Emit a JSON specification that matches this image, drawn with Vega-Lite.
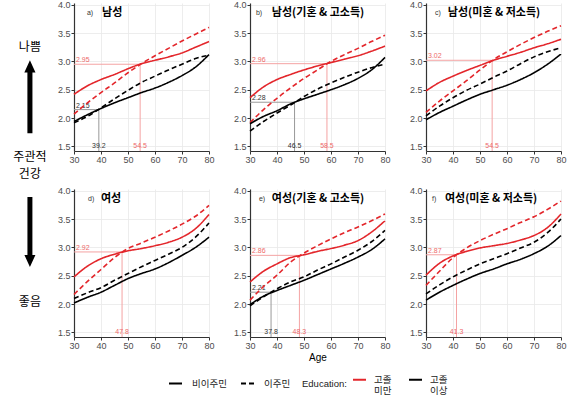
{
"$schema":"https://vega.github.io/schema/vega-lite/v6.json",
"padding":{"left":0,"top":0,"right":0,"bottom":0},
"config":{
 "view":{"stroke":null},
 "axis":{"labelFont":"Liberation Sans","labelFontSize":9,"labelColor":"#4d4d4d","labelOverlap":false,"labelFlush":false,"tickCount":12,"gridColor":"#e8e8e8","gridWidth":0.8,"domainColor":"#333333","domainWidth":1.2,"tickColor":"#333333","tickSize":3,"labelPadding":1,"titleFontSize":10,"titleFontWeight":"normal","titleColor":"#000000","titlePadding":2,"titleFont":"Liberation Sans"},
 "text":{"font":"Liberation Sans"},
 "legend":{"labelFontSize":9.5,"labelColor":"#222222","titleFontSize":9.5,"titleFontWeight":"normal","titleColor":"#222222","labelFont":"Noto Sans CJK KR","titleFont":"Liberation Sans"}
},
"datasets":{
"cross":[
{"panel":"a","type":"red","xval":54.5,"yval":2.95},
{"panel":"a","type":"gray","xval":39.2,"yval":2.15},
{"panel":"b","type":"red","xval":58.5,"yval":2.96},
{"panel":"b","type":"gray","xval":46.5,"yval":2.28},
{"panel":"c","type":"red","xval":54.5,"yval":3.02},
{"panel":"d","type":"red","xval":47.8,"yval":2.92},
{"panel":"e","type":"red","xval":48.3,"yval":2.86},
{"panel":"e","type":"gray","xval":37.8,"yval":2.21},
{"panel":"f","type":"red","xval":41.3,"yval":2.87}
],
"segs":[
{"panel":"a","type":"red","seg":"ar-h","sx":30,"sy":2.95},{"panel":"a","type":"red","seg":"ar-h","sx":54.5,"sy":2.95},
{"panel":"a","type":"red","seg":"ar-v","sx":54.5,"sy":1.42},{"panel":"a","type":"red","seg":"ar-v","sx":54.5,"sy":2.95},
{"panel":"a","type":"gray","seg":"ag-h","sx":30,"sy":2.15},{"panel":"a","type":"gray","seg":"ag-h","sx":39.2,"sy":2.15},
{"panel":"a","type":"gray","seg":"ag-v","sx":39.2,"sy":1.42},{"panel":"a","type":"gray","seg":"ag-v","sx":39.2,"sy":2.15},
{"panel":"b","type":"red","seg":"br-h","sx":30,"sy":2.96},{"panel":"b","type":"red","seg":"br-h","sx":58.5,"sy":2.96},
{"panel":"b","type":"red","seg":"br-v","sx":58.5,"sy":1.42},{"panel":"b","type":"red","seg":"br-v","sx":58.5,"sy":2.96},
{"panel":"b","type":"gray","seg":"bg-h","sx":30,"sy":2.28},{"panel":"b","type":"gray","seg":"bg-h","sx":46.5,"sy":2.28},
{"panel":"b","type":"gray","seg":"bg-v","sx":46.5,"sy":1.42},{"panel":"b","type":"gray","seg":"bg-v","sx":46.5,"sy":2.28},
{"panel":"c","type":"red","seg":"cr-h","sx":30,"sy":3.02},{"panel":"c","type":"red","seg":"cr-h","sx":54.5,"sy":3.02},
{"panel":"c","type":"red","seg":"cr-v","sx":54.5,"sy":1.42},{"panel":"c","type":"red","seg":"cr-v","sx":54.5,"sy":3.02},
{"panel":"d","type":"red","seg":"dr-h","sx":30,"sy":2.92},{"panel":"d","type":"red","seg":"dr-h","sx":47.8,"sy":2.92},
{"panel":"d","type":"red","seg":"dr-v","sx":47.8,"sy":1.42},{"panel":"d","type":"red","seg":"dr-v","sx":47.8,"sy":2.92},
{"panel":"e","type":"red","seg":"er-h","sx":30,"sy":2.86},{"panel":"e","type":"red","seg":"er-h","sx":48.3,"sy":2.86},
{"panel":"e","type":"red","seg":"er-v","sx":48.3,"sy":1.42},{"panel":"e","type":"red","seg":"er-v","sx":48.3,"sy":2.86},
{"panel":"e","type":"gray","seg":"eg-h","sx":30,"sy":2.21},{"panel":"e","type":"gray","seg":"eg-h","sx":37.8,"sy":2.21},
{"panel":"e","type":"gray","seg":"eg-v","sx":37.8,"sy":1.42},{"panel":"e","type":"gray","seg":"eg-v","sx":37.8,"sy":2.21},
{"panel":"f","type":"red","seg":"fr-h","sx":30,"sy":2.87},{"panel":"f","type":"red","seg":"fr-h","sx":41.3,"sy":2.87},
{"panel":"f","type":"red","seg":"fr-v","sx":41.3,"sy":1.42},{"panel":"f","type":"red","seg":"fr-v","sx":41.3,"sy":2.87}
],
"titles":[
{"panel":"a","t":"남성","g":"a)"},
{"panel":"b","t":"남성(기혼 & 고소득)","g":"b)"},
{"panel":"c","t":"남성(미혼 & 저소득)","g":"c)"},
{"panel":"d","t":"여성","g":"d)"},
{"panel":"e","t":"여성(기혼 & 고소득)","g":"e)"},
{"panel":"f","t":"여성(미혼 & 저소득)","g":"f)"}
],
"curves":[
{"panel":"a","edu":"고졸 미만","mig":"비이주민","age":30,"health":2.42},
{"panel":"a","edu":"고졸 미만","mig":"비이주민","age":35,"health":2.57},
{"panel":"a","edu":"고졸 미만","mig":"비이주민","age":40,"health":2.68},
{"panel":"a","edu":"고졸 미만","mig":"비이주민","age":45,"health":2.77},
{"panel":"a","edu":"고졸 미만","mig":"비이주민","age":50,"health":2.87},
{"panel":"a","edu":"고졸 미만","mig":"비이주민","age":55,"health":2.96},
{"panel":"a","edu":"고졸 미만","mig":"비이주민","age":60,"health":3.02},
{"panel":"a","edu":"고졸 미만","mig":"비이주민","age":65,"health":3.08},
{"panel":"a","edu":"고졸 미만","mig":"비이주민","age":70,"health":3.15},
{"panel":"a","edu":"고졸 미만","mig":"비이주민","age":75,"health":3.25},
{"panel":"a","edu":"고졸 미만","mig":"비이주민","age":80,"health":3.35},
{"panel":"a","edu":"고졸 미만","mig":"이주민","age":30,"health":2.07},
{"panel":"a","edu":"고졸 미만","mig":"이주민","age":35,"health":2.27},
{"panel":"a","edu":"고졸 미만","mig":"이주민","age":40,"health":2.45},
{"panel":"a","edu":"고졸 미만","mig":"이주민","age":45,"health":2.62},
{"panel":"a","edu":"고졸 미만","mig":"이주민","age":50,"health":2.80},
{"panel":"a","edu":"고졸 미만","mig":"이주민","age":55,"health":2.96},
{"panel":"a","edu":"고졸 미만","mig":"이주민","age":60,"health":3.10},
{"panel":"a","edu":"고졸 미만","mig":"이주민","age":65,"health":3.23},
{"panel":"a","edu":"고졸 미만","mig":"이주민","age":70,"health":3.36},
{"panel":"a","edu":"고졸 미만","mig":"이주민","age":75,"health":3.48},
{"panel":"a","edu":"고졸 미만","mig":"이주민","age":80,"health":3.60},
{"panel":"a","edu":"고졸 이상","mig":"비이주민","age":30,"health":1.94},
{"panel":"a","edu":"고졸 이상","mig":"비이주민","age":35,"health":2.06},
{"panel":"a","edu":"고졸 이상","mig":"비이주민","age":40,"health":2.17},
{"panel":"a","edu":"고졸 이상","mig":"비이주민","age":45,"health":2.27},
{"panel":"a","edu":"고졸 이상","mig":"비이주민","age":50,"health":2.36},
{"panel":"a","edu":"고졸 이상","mig":"비이주민","age":55,"health":2.45},
{"panel":"a","edu":"고졸 이상","mig":"비이주민","age":60,"health":2.53},
{"panel":"a","edu":"고졸 이상","mig":"비이주민","age":65,"health":2.63},
{"panel":"a","edu":"고졸 이상","mig":"비이주민","age":70,"health":2.75},
{"panel":"a","edu":"고졸 이상","mig":"비이주민","age":75,"health":2.90},
{"panel":"a","edu":"고졸 이상","mig":"비이주민","age":80,"health":3.12},
{"panel":"a","edu":"고졸 이상","mig":"이주민","age":30,"health":1.92},
{"panel":"a","edu":"고졸 이상","mig":"이주민","age":35,"health":2.03},
{"panel":"a","edu":"고졸 이상","mig":"이주민","age":40,"health":2.18},
{"panel":"a","edu":"고졸 이상","mig":"이주민","age":45,"health":2.34},
{"panel":"a","edu":"고졸 이상","mig":"이주민","age":50,"health":2.49},
{"panel":"a","edu":"고졸 이상","mig":"이주민","age":55,"health":2.63},
{"panel":"a","edu":"고졸 이상","mig":"이주민","age":60,"health":2.74},
{"panel":"a","edu":"고졸 이상","mig":"이주민","age":65,"health":2.85},
{"panel":"a","edu":"고졸 이상","mig":"이주민","age":70,"health":2.95},
{"panel":"a","edu":"고졸 이상","mig":"이주민","age":75,"health":3.05},
{"panel":"a","edu":"고졸 이상","mig":"이주민","age":80,"health":3.11},
{"panel":"b","edu":"고졸 미만","mig":"비이주민","age":30,"health":2.36},
{"panel":"b","edu":"고졸 미만","mig":"비이주민","age":35,"health":2.55},
{"panel":"b","edu":"고졸 미만","mig":"비이주민","age":40,"health":2.68},
{"panel":"b","edu":"고졸 미만","mig":"비이주민","age":45,"health":2.77},
{"panel":"b","edu":"고졸 미만","mig":"비이주민","age":50,"health":2.85},
{"panel":"b","edu":"고졸 미만","mig":"비이주민","age":55,"health":2.92},
{"panel":"b","edu":"고졸 미만","mig":"비이주민","age":60,"health":2.98},
{"panel":"b","edu":"고졸 미만","mig":"비이주민","age":65,"health":3.04},
{"panel":"b","edu":"고졸 미만","mig":"비이주민","age":70,"health":3.10},
{"panel":"b","edu":"고졸 미만","mig":"비이주민","age":75,"health":3.18},
{"panel":"b","edu":"고졸 미만","mig":"비이주민","age":80,"health":3.27},
{"panel":"b","edu":"고졸 미만","mig":"이주민","age":30,"health":1.92},
{"panel":"b","edu":"고졸 미만","mig":"이주민","age":35,"health":2.15},
{"panel":"b","edu":"고졸 미만","mig":"이주민","age":40,"health":2.35},
{"panel":"b","edu":"고졸 미만","mig":"이주민","age":45,"health":2.53},
{"panel":"b","edu":"고졸 미만","mig":"이주민","age":50,"health":2.70},
{"panel":"b","edu":"고졸 미만","mig":"이주민","age":55,"health":2.85},
{"panel":"b","edu":"고졸 미만","mig":"이주민","age":60,"health":3.00},
{"panel":"b","edu":"고졸 미만","mig":"이주민","age":65,"health":3.12},
{"panel":"b","edu":"고졸 미만","mig":"이주민","age":70,"health":3.23},
{"panel":"b","edu":"고졸 미만","mig":"이주민","age":75,"health":3.35},
{"panel":"b","edu":"고졸 미만","mig":"이주민","age":80,"health":3.46},
{"panel":"b","edu":"고졸 이상","mig":"비이주민","age":30,"health":1.90},
{"panel":"b","edu":"고졸 이상","mig":"비이주민","age":35,"health":2.03},
{"panel":"b","edu":"고졸 이상","mig":"비이주민","age":40,"health":2.13},
{"panel":"b","edu":"고졸 이상","mig":"비이주민","age":45,"health":2.25},
{"panel":"b","edu":"고졸 이상","mig":"비이주민","age":50,"health":2.34},
{"panel":"b","edu":"고졸 이상","mig":"비이주민","age":55,"health":2.42},
{"panel":"b","edu":"고졸 이상","mig":"비이주민","age":60,"health":2.50},
{"panel":"b","edu":"고졸 이상","mig":"비이주민","age":65,"health":2.59},
{"panel":"b","edu":"고졸 이상","mig":"비이주민","age":70,"health":2.70},
{"panel":"b","edu":"고졸 이상","mig":"비이주민","age":75,"health":2.85},
{"panel":"b","edu":"고졸 이상","mig":"비이주민","age":80,"health":3.07},
{"panel":"b","edu":"고졸 이상","mig":"이주민","age":30,"health":1.77},
{"panel":"b","edu":"고졸 이상","mig":"이주민","age":35,"health":1.94},
{"panel":"b","edu":"고졸 이상","mig":"이주민","age":40,"health":2.09},
{"panel":"b","edu":"고졸 이상","mig":"이주민","age":45,"health":2.23},
{"panel":"b","edu":"고졸 이상","mig":"이주민","age":50,"health":2.38},
{"panel":"b","edu":"고졸 이상","mig":"이주민","age":55,"health":2.51},
{"panel":"b","edu":"고졸 이상","mig":"이주민","age":60,"health":2.62},
{"panel":"b","edu":"고졸 이상","mig":"이주민","age":65,"health":2.72},
{"panel":"b","edu":"고졸 이상","mig":"이주민","age":70,"health":2.81},
{"panel":"b","edu":"고졸 이상","mig":"이주민","age":75,"health":2.89},
{"panel":"b","edu":"고졸 이상","mig":"이주민","age":80,"health":2.95},
{"panel":"c","edu":"고졸 미만","mig":"비이주민","age":30,"health":2.48},
{"panel":"c","edu":"고졸 미만","mig":"비이주민","age":35,"health":2.63},
{"panel":"c","edu":"고졸 미만","mig":"비이주민","age":40,"health":2.74},
{"panel":"c","edu":"고졸 미만","mig":"비이주민","age":45,"health":2.84},
{"panel":"c","edu":"고졸 미만","mig":"비이주민","age":50,"health":2.93},
{"panel":"c","edu":"고졸 미만","mig":"비이주민","age":55,"health":3.02},
{"panel":"c","edu":"고졸 미만","mig":"비이주민","age":60,"health":3.09},
{"panel":"c","edu":"고졸 미만","mig":"비이주민","age":65,"health":3.16},
{"panel":"c","edu":"고졸 미만","mig":"비이주민","age":70,"health":3.24},
{"panel":"c","edu":"고졸 미만","mig":"비이주민","age":75,"health":3.31},
{"panel":"c","edu":"고졸 미만","mig":"비이주민","age":80,"health":3.39},
{"panel":"c","edu":"고졸 미만","mig":"이주민","age":30,"health":2.10},
{"panel":"c","edu":"고졸 미만","mig":"이주민","age":35,"health":2.30},
{"panel":"c","edu":"고졸 미만","mig":"이주민","age":40,"health":2.48},
{"panel":"c","edu":"고졸 미만","mig":"이주민","age":45,"health":2.66},
{"panel":"c","edu":"고졸 미만","mig":"이주민","age":50,"health":2.85},
{"panel":"c","edu":"고졸 미만","mig":"이주민","age":55,"health":3.03},
{"panel":"c","edu":"고졸 미만","mig":"이주민","age":60,"health":3.17},
{"panel":"c","edu":"고졸 미만","mig":"이주민","age":65,"health":3.30},
{"panel":"c","edu":"고졸 미만","mig":"이주민","age":70,"health":3.42},
{"panel":"c","edu":"고졸 미만","mig":"이주민","age":75,"health":3.53},
{"panel":"c","edu":"고졸 미만","mig":"이주민","age":80,"health":3.63},
{"panel":"c","edu":"고졸 이상","mig":"비이주민","age":30,"health":1.97},
{"panel":"c","edu":"고졸 이상","mig":"비이주민","age":35,"health":2.10},
{"panel":"c","edu":"고졸 이상","mig":"비이주민","age":40,"health":2.21},
{"panel":"c","edu":"고졸 이상","mig":"비이주민","age":45,"health":2.32},
{"panel":"c","edu":"고졸 이상","mig":"비이주민","age":50,"health":2.42},
{"panel":"c","edu":"고졸 이상","mig":"비이주민","age":55,"health":2.50},
{"panel":"c","edu":"고졸 이상","mig":"비이주민","age":60,"health":2.58},
{"panel":"c","edu":"고졸 이상","mig":"비이주민","age":65,"health":2.68},
{"panel":"c","edu":"고졸 이상","mig":"비이주민","age":70,"health":2.80},
{"panel":"c","edu":"고졸 이상","mig":"비이주민","age":75,"health":2.95},
{"panel":"c","edu":"고졸 이상","mig":"비이주민","age":80,"health":3.13},
{"panel":"c","edu":"고졸 이상","mig":"이주민","age":30,"health":2.04},
{"panel":"c","edu":"고졸 이상","mig":"이주민","age":35,"health":2.21},
{"panel":"c","edu":"고졸 이상","mig":"이주민","age":40,"health":2.36},
{"panel":"c","edu":"고졸 이상","mig":"이주민","age":45,"health":2.49},
{"panel":"c","edu":"고졸 이상","mig":"이주민","age":50,"health":2.60},
{"panel":"c","edu":"고졸 이상","mig":"이주민","age":55,"health":2.72},
{"panel":"c","edu":"고졸 이상","mig":"이주민","age":60,"health":2.83},
{"panel":"c","edu":"고졸 이상","mig":"이주민","age":65,"health":2.96},
{"panel":"c","edu":"고졸 이상","mig":"이주민","age":70,"health":3.08},
{"panel":"c","edu":"고졸 이상","mig":"이주민","age":75,"health":3.17},
{"panel":"c","edu":"고졸 이상","mig":"이주민","age":80,"health":3.24},
{"panel":"d","edu":"고졸 미만","mig":"비이주민","age":30,"health":2.48},
{"panel":"d","edu":"고졸 미만","mig":"비이주민","age":35,"health":2.67},
{"panel":"d","edu":"고졸 미만","mig":"비이주민","age":40,"health":2.80},
{"panel":"d","edu":"고졸 미만","mig":"비이주민","age":45,"health":2.88},
{"panel":"d","edu":"고졸 미만","mig":"비이주민","age":50,"health":2.94},
{"panel":"d","edu":"고졸 미만","mig":"비이주민","age":55,"health":2.98},
{"panel":"d","edu":"고졸 미만","mig":"비이주민","age":60,"health":3.03},
{"panel":"d","edu":"고졸 미만","mig":"비이주민","age":65,"health":3.09},
{"panel":"d","edu":"고졸 미만","mig":"비이주민","age":70,"health":3.18},
{"panel":"d","edu":"고졸 미만","mig":"비이주민","age":75,"health":3.33},
{"panel":"d","edu":"고졸 미만","mig":"비이주민","age":80,"health":3.58},
{"panel":"d","edu":"고졸 미만","mig":"이주민","age":30,"health":2.17},
{"panel":"d","edu":"고졸 미만","mig":"이주민","age":35,"health":2.40},
{"panel":"d","edu":"고졸 미만","mig":"이주민","age":40,"health":2.61},
{"panel":"d","edu":"고졸 미만","mig":"이주민","age":45,"health":2.82},
{"panel":"d","edu":"고졸 미만","mig":"이주민","age":50,"health":2.98},
{"panel":"d","edu":"고졸 미만","mig":"이주민","age":55,"health":3.08},
{"panel":"d","edu":"고졸 미만","mig":"이주민","age":60,"health":3.18},
{"panel":"d","edu":"고졸 미만","mig":"이주민","age":65,"health":3.29},
{"panel":"d","edu":"고졸 미만","mig":"이주민","age":70,"health":3.41},
{"panel":"d","edu":"고졸 미만","mig":"이주민","age":75,"health":3.55},
{"panel":"d","edu":"고졸 미만","mig":"이주민","age":80,"health":3.74},
{"panel":"d","edu":"고졸 이상","mig":"비이주민","age":30,"health":2.02},
{"panel":"d","edu":"고졸 이상","mig":"비이주민","age":35,"health":2.12},
{"panel":"d","edu":"고졸 이상","mig":"비이주민","age":40,"health":2.21},
{"panel":"d","edu":"고졸 이상","mig":"비이주민","age":45,"health":2.33},
{"panel":"d","edu":"고졸 이상","mig":"비이주민","age":50,"health":2.45},
{"panel":"d","edu":"고졸 이상","mig":"비이주민","age":55,"health":2.54},
{"panel":"d","edu":"고졸 이상","mig":"비이주민","age":60,"health":2.62},
{"panel":"d","edu":"고졸 이상","mig":"비이주민","age":65,"health":2.73},
{"panel":"d","edu":"고졸 이상","mig":"비이주민","age":70,"health":2.86},
{"panel":"d","edu":"고졸 이상","mig":"비이주민","age":75,"health":3.00},
{"panel":"d","edu":"고졸 이상","mig":"비이주민","age":80,"health":3.18},
{"panel":"d","edu":"고졸 이상","mig":"이주민","age":30,"health":2.10},
{"panel":"d","edu":"고졸 이상","mig":"이주민","age":35,"health":2.20},
{"panel":"d","edu":"고졸 이상","mig":"이주민","age":40,"health":2.29},
{"panel":"d","edu":"고졸 이상","mig":"이주민","age":45,"health":2.42},
{"panel":"d","edu":"고졸 이상","mig":"이주민","age":50,"health":2.54},
{"panel":"d","edu":"고졸 이상","mig":"이주민","age":55,"health":2.66},
{"panel":"d","edu":"고졸 이상","mig":"이주민","age":60,"health":2.77},
{"panel":"d","edu":"고졸 이상","mig":"이주민","age":65,"health":2.88},
{"panel":"d","edu":"고졸 이상","mig":"이주민","age":70,"health":3.00},
{"panel":"d","edu":"고졸 이상","mig":"이주민","age":75,"health":3.18},
{"panel":"d","edu":"고졸 이상","mig":"이주민","age":80,"health":3.43},
{"panel":"e","edu":"고졸 미만","mig":"비이주민","age":30,"health":2.39},
{"panel":"e","edu":"고졸 미만","mig":"비이주민","age":35,"health":2.58},
{"panel":"e","edu":"고졸 미만","mig":"비이주민","age":40,"health":2.71},
{"panel":"e","edu":"고졸 미만","mig":"비이주민","age":45,"health":2.82},
{"panel":"e","edu":"고졸 미만","mig":"비이주민","age":50,"health":2.87},
{"panel":"e","edu":"고졸 미만","mig":"비이주민","age":55,"health":2.93},
{"panel":"e","edu":"고졸 미만","mig":"비이주민","age":60,"health":2.98},
{"panel":"e","edu":"고졸 미만","mig":"비이주민","age":65,"health":3.04},
{"panel":"e","edu":"고졸 미만","mig":"비이주민","age":70,"health":3.12},
{"panel":"e","edu":"고졸 미만","mig":"비이주민","age":75,"health":3.27},
{"panel":"e","edu":"고졸 미만","mig":"비이주민","age":80,"health":3.47},
{"panel":"e","edu":"고졸 미만","mig":"이주민","age":30,"health":2.07},
{"panel":"e","edu":"고졸 미만","mig":"이주민","age":35,"health":2.31},
{"panel":"e","edu":"고졸 미만","mig":"이주민","age":40,"health":2.51},
{"panel":"e","edu":"고졸 미만","mig":"이주민","age":45,"health":2.74},
{"panel":"e","edu":"고졸 미만","mig":"이주민","age":50,"health":2.90},
{"panel":"e","edu":"고졸 미만","mig":"이주민","age":55,"health":3.03},
{"panel":"e","edu":"고졸 미만","mig":"이주민","age":60,"health":3.15},
{"panel":"e","edu":"고졸 미만","mig":"이주민","age":65,"health":3.26},
{"panel":"e","edu":"고졸 미만","mig":"이주민","age":70,"health":3.36},
{"panel":"e","edu":"고졸 미만","mig":"이주민","age":75,"health":3.47},
{"panel":"e","edu":"고졸 미만","mig":"이주민","age":80,"health":3.59},
{"panel":"e","edu":"고졸 이상","mig":"비이주민","age":30,"health":1.99},
{"panel":"e","edu":"고졸 이상","mig":"비이주민","age":35,"health":2.14},
{"panel":"e","edu":"고졸 이상","mig":"비이주민","age":40,"health":2.24},
{"panel":"e","edu":"고졸 이상","mig":"비이주민","age":45,"health":2.33},
{"panel":"e","edu":"고졸 이상","mig":"비이주민","age":50,"health":2.42},
{"panel":"e","edu":"고졸 이상","mig":"비이주민","age":55,"health":2.52},
{"panel":"e","edu":"고졸 이상","mig":"비이주민","age":60,"health":2.62},
{"panel":"e","edu":"고졸 이상","mig":"비이주민","age":65,"health":2.72},
{"panel":"e","edu":"고졸 이상","mig":"비이주민","age":70,"health":2.83},
{"panel":"e","edu":"고졸 이상","mig":"비이주민","age":75,"health":2.96},
{"panel":"e","edu":"고졸 이상","mig":"비이주민","age":80,"health":3.15},
{"panel":"e","edu":"고졸 이상","mig":"이주민","age":30,"health":1.97},
{"panel":"e","edu":"고졸 이상","mig":"이주민","age":35,"health":2.13},
{"panel":"e","edu":"고졸 이상","mig":"이주민","age":40,"health":2.27},
{"panel":"e","edu":"고졸 이상","mig":"이주민","age":45,"health":2.39},
{"panel":"e","edu":"고졸 이상","mig":"이주민","age":50,"health":2.48},
{"panel":"e","edu":"고졸 이상","mig":"이주민","age":55,"health":2.60},
{"panel":"e","edu":"고졸 이상","mig":"이주민","age":60,"health":2.71},
{"panel":"e","edu":"고졸 이상","mig":"이주민","age":65,"health":2.83},
{"panel":"e","edu":"고졸 이상","mig":"이주민","age":70,"health":2.95},
{"panel":"e","edu":"고졸 이상","mig":"이주민","age":75,"health":3.10},
{"panel":"e","edu":"고졸 이상","mig":"이주민","age":80,"health":3.30},
{"panel":"f","edu":"고졸 미만","mig":"비이주민","age":30,"health":2.51},
{"panel":"f","edu":"고졸 미만","mig":"비이주민","age":35,"health":2.72},
{"panel":"f","edu":"고졸 미만","mig":"비이주민","age":40,"health":2.85},
{"panel":"f","edu":"고졸 미만","mig":"비이주민","age":45,"health":2.93},
{"panel":"f","edu":"고졸 미만","mig":"비이주민","age":50,"health":2.99},
{"panel":"f","edu":"고졸 미만","mig":"비이주민","age":55,"health":3.03},
{"panel":"f","edu":"고졸 미만","mig":"비이주민","age":60,"health":3.07},
{"panel":"f","edu":"고졸 미만","mig":"비이주민","age":65,"health":3.13},
{"panel":"f","edu":"고졸 미만","mig":"비이주민","age":70,"health":3.21},
{"panel":"f","edu":"고졸 미만","mig":"비이주민","age":75,"health":3.35},
{"panel":"f","edu":"고졸 미만","mig":"비이주민","age":80,"health":3.59},
{"panel":"f","edu":"고졸 미만","mig":"이주민","age":30,"health":2.33},
{"panel":"f","edu":"고졸 미만","mig":"이주민","age":35,"health":2.58},
{"panel":"f","edu":"고졸 미만","mig":"이주민","age":40,"health":2.82},
{"panel":"f","edu":"고졸 미만","mig":"이주민","age":45,"health":2.99},
{"panel":"f","edu":"고졸 미만","mig":"이주민","age":50,"health":3.12},
{"panel":"f","edu":"고졸 미만","mig":"이주민","age":55,"health":3.23},
{"panel":"f","edu":"고졸 미만","mig":"이주민","age":60,"health":3.33},
{"panel":"f","edu":"고졸 미만","mig":"이주민","age":65,"health":3.44},
{"panel":"f","edu":"고졸 미만","mig":"이주민","age":70,"health":3.54},
{"panel":"f","edu":"고졸 미만","mig":"이주민","age":75,"health":3.67},
{"panel":"f","edu":"고졸 미만","mig":"이주민","age":80,"health":3.82},
{"panel":"f","edu":"고졸 이상","mig":"비이주민","age":30,"health":2.07},
{"panel":"f","edu":"고졸 이상","mig":"비이주민","age":35,"health":2.21},
{"panel":"f","edu":"고졸 이상","mig":"비이주민","age":40,"health":2.33},
{"panel":"f","edu":"고졸 이상","mig":"비이주민","age":45,"health":2.44},
{"panel":"f","edu":"고졸 이상","mig":"비이주민","age":50,"health":2.54},
{"panel":"f","edu":"고졸 이상","mig":"비이주민","age":55,"health":2.62},
{"panel":"f","edu":"고졸 이상","mig":"비이주민","age":60,"health":2.71},
{"panel":"f","edu":"고졸 이상","mig":"비이주민","age":65,"health":2.79},
{"panel":"f","edu":"고졸 이상","mig":"비이주민","age":70,"health":2.89},
{"panel":"f","edu":"고졸 이상","mig":"비이주민","age":75,"health":3.02},
{"panel":"f","edu":"고졸 이상","mig":"비이주민","age":80,"health":3.21},
{"panel":"f","edu":"고졸 이상","mig":"이주민","age":30,"health":2.18},
{"panel":"f","edu":"고졸 이상","mig":"이주민","age":35,"health":2.34},
{"panel":"f","edu":"고졸 이상","mig":"이주민","age":40,"health":2.48},
{"panel":"f","edu":"고졸 이상","mig":"이주민","age":45,"health":2.60},
{"panel":"f","edu":"고졸 이상","mig":"이주민","age":50,"health":2.71},
{"panel":"f","edu":"고졸 이상","mig":"이주민","age":55,"health":2.80},
{"panel":"f","edu":"고졸 이상","mig":"이주민","age":60,"health":2.89},
{"panel":"f","edu":"고졸 이상","mig":"이주민","age":65,"health":2.99},
{"panel":"f","edu":"고졸 이상","mig":"이주민","age":70,"health":3.09},
{"panel":"f","edu":"고졸 이상","mig":"이주민","age":75,"health":3.26},
{"panel":"f","edu":"고졸 이상","mig":"이주민","age":80,"health":3.50}
],
"side":[
{"item":"나쁨","bold":"no","px":68,"py":14.1},
{"item":"주관적","bold":"yes","px":68,"py":49.1},
{"item":"건강","bold":"yes","px":68,"py":54.5},
{"item":"좋음","bold":"no","px":68,"py":95.2}
],
"arrows":[
{"dir":"up","px":68,"py":29.9},
{"dir":"down","px":68,"py":73.0}
]
},
"spacing":10,
"hconcat":[
{
 "width":44,"height":345,
 "layer":[
  {"data":{"name":"side"},"mark":{"type":"text","fontSize":12,"font":"Noto Sans CJK KR","baseline":"middle","color":"#000000"},
   "encoding":{"x":{"field":"px","type":"quantitative","scale":{"domain":[0,100]},"axis":null},"y":{"field":"py","type":"quantitative","scale":{"domain":[0,101.5],"reverse":true},"axis":null},
   "text":{"field":"item","type":"nominal"},
   "fontWeight":{"condition":{"test":"datum.bold=='yes'","value":"bold"},"value":"normal"}}},
  {"data":{"name":"arrows"},"transform":[{"filter":"datum.dir=='up'"}],"mark":{"type":"point","shape":"M-0.069,1L0.069,1L0.069,-0.667L0.153,-0.667L0,-1L-0.153,-0.667L-0.069,-0.667Z","filled":true,"color":"#000000","size":5329,"opacity":1,"strokeWidth":0},
   "encoding":{"x":{"field":"px","type":"quantitative"},"y":{"field":"py","type":"quantitative"}}},
  {"data":{"name":"arrows"},"transform":[{"filter":"datum.dir=='down'"}],"mark":{"type":"point","shape":"M-0.071,-1L0.071,-1L0.071,0.657L0.157,0.657L0,1L-0.157,0.657L-0.071,0.657Z","filled":true,"color":"#000000","size":4900,"opacity":1,"strokeWidth":0},
   "encoding":{"x":{"field":"px","type":"quantitative"},"y":{"field":"py","type":"quantitative"}}}
 ]
},
{
 "spacing":22,
 "vconcat":[
 {"spacing":18,"hconcat":[
  {"width":135,"height":148,"layer":[
   {"data":{"name":"segs"},"transform":[{"filter":"datum.panel=='a'"}],"mark":{"type":"line","strokeWidth":1},"encoding":{"x":{"field":"sx","type":"quantitative","title":null},"y":{"field":"sy","type":"quantitative","title":null},"detail":{"field":"seg"},"color":{"condition":{"test":"datum.type=='red'","value":"#F4A3A3"},"value":"#999999"}}},
   {"data":{"name":"cross"},"transform":[{"filter":"datum.panel=='a'"}],"mark":{"type":"text","align":"left","baseline":"bottom","dx":2,"dy":-1,"fontSize":7},"encoding":{"x":{"datum":30,"type":"quantitative"},"y":{"field":"yval","type":"quantitative","title":null},"text":{"field":"yval","type":"quantitative","format":".2f"},"color":{"condition":{"test":"datum.type=='red'","value":"#EE6A6A"},"value":"#333333"}}},
   {"data":{"name":"cross"},"transform":[{"filter":"datum.panel=='a'"}],"mark":{"type":"text","align":"center","baseline":"middle","fontSize":7},"encoding":{"x":{"field":"xval","type":"quantitative","title":null},"y":{"datum":1.5,"type":"quantitative"},"text":{"field":"xval","type":"quantitative","format":".1f"},"color":{"condition":{"test":"datum.type=='red'","value":"#EE6A6A"},"value":"#333333"}}},
   {"data":{"name":"curves"},"transform":[{"filter":"datum.panel=='a'"}],"mark":{"type":"line","strokeWidth":1.6,"interpolate":"monotone"},"encoding":{
     "x":{"field":"age","type":"quantitative","scale":{"domain":[30,80],"nice":false},"axis":{"values":[30,40,50,60,70,80],"tickCount":12,"title":null,"labelOverlap":false}},
     "y":{"field":"health","type":"quantitative","scale":{"domain":[1.42,4.03],"nice":false,"zero":false},"axis":{"values":[1.5,2,2.5,3,3.5,4],"tickCount":12,"format":".1f","title":null,"labelOverlap":false}},
     "color":{"field":"edu","type":"nominal","scale":{"domain":["고졸 미만","고졸 이상"],"range":["#E3262B","#000000"]},"legend":{"title":"Education:","orient":"none","legendX":302,"legendY":369,"direction":"horizontal","titleOrient":"left","titlePadding":5,"labelExpr":"split(datum.label, ' ')","symbolType":"stroke","symbolStrokeWidth":2,"symbolSize":169,"labelOffset":7,"columnPadding":13}},
     "strokeDash":{"field":"mig","type":"nominal","scale":{"domain":["비이주민","이주민"],"range":[[1,0],[5,3]]},"legend":{"title":null,"orient":"none","legendX":168,"legendY":373,"direction":"horizontal","symbolType":"stroke","symbolStrokeColor":"#000000","symbolStrokeWidth":2,"symbolSize":169,"labelOffset":9,"columnPadding":10}}}},
   {"data":{"name":"titles"},"transform":[{"filter":"datum.panel=='a'"}],"mark":{"type":"text","align":"left","baseline":"middle","fontSize":7,"color":"#333333"},"encoding":{"x":{"datum":34.8,"type":"quantitative"},"y":{"datum":3.85,"type":"quantitative"},"text":{"field":"g","type":"nominal"}}},
   {"data":{"name":"titles"},"transform":[{"filter":"datum.panel=='a'"}],"mark":{"type":"text","align":"left","baseline":"middle","fontSize":11,"fontWeight":"bold","font":"Noto Sans CJK KR","color":"#000000"},"encoding":{"x":{"datum":40.4,"type":"quantitative"},"y":{"datum":3.85,"type":"quantitative"},"text":{"field":"t","type":"nominal"}}}
  ]},
  {"width":135,"height":148,"layer":[
   {"data":{"name":"segs"},"transform":[{"filter":"datum.panel=='b'"}],"mark":{"type":"line","strokeWidth":1},"encoding":{"x":{"field":"sx","type":"quantitative","title":null},"y":{"field":"sy","type":"quantitative","title":null},"detail":{"field":"seg"},"color":{"condition":{"test":"datum.type=='red'","value":"#F4A3A3"},"value":"#999999"}}},
   {"data":{"name":"cross"},"transform":[{"filter":"datum.panel=='b'"}],"mark":{"type":"text","align":"left","baseline":"bottom","dx":2,"dy":-1,"fontSize":7},"encoding":{"x":{"datum":30,"type":"quantitative"},"y":{"field":"yval","type":"quantitative","title":null},"text":{"field":"yval","type":"quantitative","format":".2f"},"color":{"condition":{"test":"datum.type=='red'","value":"#EE6A6A"},"value":"#333333"}}},
   {"data":{"name":"cross"},"transform":[{"filter":"datum.panel=='b'"}],"mark":{"type":"text","align":"center","baseline":"middle","fontSize":7},"encoding":{"x":{"field":"xval","type":"quantitative","title":null},"y":{"datum":1.5,"type":"quantitative"},"text":{"field":"xval","type":"quantitative","format":".1f"},"color":{"condition":{"test":"datum.type=='red'","value":"#EE6A6A"},"value":"#333333"}}},
   {"data":{"name":"curves"},"transform":[{"filter":"datum.panel=='b'"}],"mark":{"type":"line","strokeWidth":1.6,"interpolate":"monotone"},"encoding":{
     "x":{"field":"age","type":"quantitative","scale":{"domain":[30,80],"nice":false},"axis":{"values":[30,40,50,60,70,80],"tickCount":12,"title":null,"labelOverlap":false}},
     "y":{"field":"health","type":"quantitative","scale":{"domain":[1.42,4.03],"nice":false,"zero":false},"axis":{"values":[1.5,2,2.5,3,3.5,4],"tickCount":12,"format":".1f","title":null,"labelOverlap":false}},
     "color":{"field":"edu","type":"nominal","scale":{"domain":["고졸 미만","고졸 이상"],"range":["#E3262B","#000000"]},"legend":{"title":"Education:","orient":"none","legendX":302,"legendY":369,"direction":"horizontal","titleOrient":"left","titlePadding":5,"labelExpr":"split(datum.label, ' ')","symbolType":"stroke","symbolStrokeWidth":2,"symbolSize":169,"labelOffset":7,"columnPadding":13}},
     "strokeDash":{"field":"mig","type":"nominal","scale":{"domain":["비이주민","이주민"],"range":[[1,0],[5,3]]},"legend":{"title":null,"orient":"none","legendX":168,"legendY":373,"direction":"horizontal","symbolType":"stroke","symbolStrokeColor":"#000000","symbolStrokeWidth":2,"symbolSize":169,"labelOffset":9,"columnPadding":10}}}},
   {"data":{"name":"titles"},"transform":[{"filter":"datum.panel=='b'"}],"mark":{"type":"text","align":"left","baseline":"middle","fontSize":7,"color":"#333333"},"encoding":{"x":{"datum":32.2,"type":"quantitative"},"y":{"datum":3.85,"type":"quantitative"},"text":{"field":"g","type":"nominal"}}},
   {"data":{"name":"titles"},"transform":[{"filter":"datum.panel=='b'"}],"mark":{"type":"text","align":"left","baseline":"middle","fontSize":11,"fontWeight":"bold","font":"Noto Sans CJK KR","color":"#000000"},"encoding":{"x":{"datum":38.1,"type":"quantitative"},"y":{"datum":3.85,"type":"quantitative"},"text":{"field":"t","type":"nominal"}}}
  ]},
  {"width":135,"height":148,"layer":[
   {"data":{"name":"segs"},"transform":[{"filter":"datum.panel=='c'"}],"mark":{"type":"line","strokeWidth":1},"encoding":{"x":{"field":"sx","type":"quantitative","title":null},"y":{"field":"sy","type":"quantitative","title":null},"detail":{"field":"seg"},"color":{"condition":{"test":"datum.type=='red'","value":"#F4A3A3"},"value":"#999999"}}},
   {"data":{"name":"cross"},"transform":[{"filter":"datum.panel=='c'"}],"mark":{"type":"text","align":"left","baseline":"bottom","dx":2,"dy":-1,"fontSize":7},"encoding":{"x":{"datum":30,"type":"quantitative"},"y":{"field":"yval","type":"quantitative","title":null},"text":{"field":"yval","type":"quantitative","format":".2f"},"color":{"condition":{"test":"datum.type=='red'","value":"#EE6A6A"},"value":"#333333"}}},
   {"data":{"name":"cross"},"transform":[{"filter":"datum.panel=='c'"}],"mark":{"type":"text","align":"center","baseline":"middle","fontSize":7},"encoding":{"x":{"field":"xval","type":"quantitative","title":null},"y":{"datum":1.5,"type":"quantitative"},"text":{"field":"xval","type":"quantitative","format":".1f"},"color":{"condition":{"test":"datum.type=='red'","value":"#EE6A6A"},"value":"#333333"}}},
   {"data":{"name":"curves"},"transform":[{"filter":"datum.panel=='c'"}],"mark":{"type":"line","strokeWidth":1.6,"interpolate":"monotone"},"encoding":{
     "x":{"field":"age","type":"quantitative","scale":{"domain":[30,80],"nice":false},"axis":{"values":[30,40,50,60,70,80],"tickCount":12,"title":null,"labelOverlap":false}},
     "y":{"field":"health","type":"quantitative","scale":{"domain":[1.42,4.03],"nice":false,"zero":false},"axis":{"values":[1.5,2,2.5,3,3.5,4],"tickCount":12,"format":".1f","title":null,"labelOverlap":false}},
     "color":{"field":"edu","type":"nominal","scale":{"domain":["고졸 미만","고졸 이상"],"range":["#E3262B","#000000"]},"legend":{"title":"Education:","orient":"none","legendX":302,"legendY":369,"direction":"horizontal","titleOrient":"left","titlePadding":5,"labelExpr":"split(datum.label, ' ')","symbolType":"stroke","symbolStrokeWidth":2,"symbolSize":169,"labelOffset":7,"columnPadding":13}},
     "strokeDash":{"field":"mig","type":"nominal","scale":{"domain":["비이주민","이주민"],"range":[[1,0],[5,3]]},"legend":{"title":null,"orient":"none","legendX":168,"legendY":373,"direction":"horizontal","symbolType":"stroke","symbolStrokeColor":"#000000","symbolStrokeWidth":2,"symbolSize":169,"labelOffset":9,"columnPadding":10}}}},
   {"data":{"name":"titles"},"transform":[{"filter":"datum.panel=='c'"}],"mark":{"type":"text","align":"left","baseline":"middle","fontSize":7,"color":"#333333"},"encoding":{"x":{"datum":33.3,"type":"quantitative"},"y":{"datum":3.85,"type":"quantitative"},"text":{"field":"g","type":"nominal"}}},
   {"data":{"name":"titles"},"transform":[{"filter":"datum.panel=='c'"}],"mark":{"type":"text","align":"left","baseline":"middle","fontSize":11,"fontWeight":"bold","font":"Noto Sans CJK KR","color":"#000000"},"encoding":{"x":{"datum":38.1,"type":"quantitative"},"y":{"datum":3.85,"type":"quantitative"},"text":{"field":"t","type":"nominal"}}}
  ]}
 ]},
 {"spacing":18,"hconcat":[
  {"width":135,"height":148,"layer":[
   {"data":{"name":"segs"},"transform":[{"filter":"datum.panel=='d'"}],"mark":{"type":"line","strokeWidth":1},"encoding":{"x":{"field":"sx","type":"quantitative","title":null},"y":{"field":"sy","type":"quantitative","title":null},"detail":{"field":"seg"},"color":{"condition":{"test":"datum.type=='red'","value":"#F4A3A3"},"value":"#999999"}}},
   {"data":{"name":"cross"},"transform":[{"filter":"datum.panel=='d'"}],"mark":{"type":"text","align":"left","baseline":"bottom","dx":2,"dy":-1,"fontSize":7},"encoding":{"x":{"datum":30,"type":"quantitative"},"y":{"field":"yval","type":"quantitative","title":null},"text":{"field":"yval","type":"quantitative","format":".2f"},"color":{"condition":{"test":"datum.type=='red'","value":"#EE6A6A"},"value":"#333333"}}},
   {"data":{"name":"cross"},"transform":[{"filter":"datum.panel=='d'"}],"mark":{"type":"text","align":"center","baseline":"middle","fontSize":7},"encoding":{"x":{"field":"xval","type":"quantitative","title":null},"y":{"datum":1.5,"type":"quantitative"},"text":{"field":"xval","type":"quantitative","format":".1f"},"color":{"condition":{"test":"datum.type=='red'","value":"#EE6A6A"},"value":"#333333"}}},
   {"data":{"name":"curves"},"transform":[{"filter":"datum.panel=='d'"}],"mark":{"type":"line","strokeWidth":1.6,"interpolate":"monotone"},"encoding":{
     "x":{"field":"age","type":"quantitative","scale":{"domain":[30,80],"nice":false},"axis":{"values":[30,40,50,60,70,80],"tickCount":12,"title":null,"labelOverlap":false}},
     "y":{"field":"health","type":"quantitative","scale":{"domain":[1.42,4.03],"nice":false,"zero":false},"axis":{"values":[1.5,2,2.5,3,3.5,4],"tickCount":12,"format":".1f","title":null,"labelOverlap":false}},
     "color":{"field":"edu","type":"nominal","scale":{"domain":["고졸 미만","고졸 이상"],"range":["#E3262B","#000000"]},"legend":{"title":"Education:","orient":"none","legendX":302,"legendY":369,"direction":"horizontal","titleOrient":"left","titlePadding":5,"labelExpr":"split(datum.label, ' ')","symbolType":"stroke","symbolStrokeWidth":2,"symbolSize":169,"labelOffset":7,"columnPadding":13}},
     "strokeDash":{"field":"mig","type":"nominal","scale":{"domain":["비이주민","이주민"],"range":[[1,0],[5,3]]},"legend":{"title":null,"orient":"none","legendX":168,"legendY":373,"direction":"horizontal","symbolType":"stroke","symbolStrokeColor":"#000000","symbolStrokeWidth":2,"symbolSize":169,"labelOffset":9,"columnPadding":10}}}},
   {"data":{"name":"titles"},"transform":[{"filter":"datum.panel=='d'"}],"mark":{"type":"text","align":"left","baseline":"middle","fontSize":7,"color":"#333333"},"encoding":{"x":{"datum":35.2,"type":"quantitative"},"y":{"datum":3.85,"type":"quantitative"},"text":{"field":"g","type":"nominal"}}},
   {"data":{"name":"titles"},"transform":[{"filter":"datum.panel=='d'"}],"mark":{"type":"text","align":"left","baseline":"middle","fontSize":11,"fontWeight":"bold","font":"Noto Sans CJK KR","color":"#000000"},"encoding":{"x":{"datum":40.0,"type":"quantitative"},"y":{"datum":3.85,"type":"quantitative"},"text":{"field":"t","type":"nominal"}}}
  ]},
  {"width":135,"height":148,"layer":[
   {"data":{"name":"segs"},"transform":[{"filter":"datum.panel=='e'"}],"mark":{"type":"line","strokeWidth":1},"encoding":{"x":{"field":"sx","type":"quantitative","title":"Age"},"y":{"field":"sy","type":"quantitative","title":null},"detail":{"field":"seg"},"color":{"condition":{"test":"datum.type=='red'","value":"#F4A3A3"},"value":"#999999"}}},
   {"data":{"name":"cross"},"transform":[{"filter":"datum.panel=='e'"}],"mark":{"type":"text","align":"left","baseline":"bottom","dx":2,"dy":-1,"fontSize":7},"encoding":{"x":{"datum":30,"type":"quantitative"},"y":{"field":"yval","type":"quantitative","title":null},"text":{"field":"yval","type":"quantitative","format":".2f"},"color":{"condition":{"test":"datum.type=='red'","value":"#EE6A6A"},"value":"#333333"}}},
   {"data":{"name":"cross"},"transform":[{"filter":"datum.panel=='e'"}],"mark":{"type":"text","align":"center","baseline":"middle","fontSize":7},"encoding":{"x":{"field":"xval","type":"quantitative","title":"Age"},"y":{"datum":1.5,"type":"quantitative"},"text":{"field":"xval","type":"quantitative","format":".1f"},"color":{"condition":{"test":"datum.type=='red'","value":"#EE6A6A"},"value":"#333333"}}},
   {"data":{"name":"curves"},"transform":[{"filter":"datum.panel=='e'"}],"mark":{"type":"line","strokeWidth":1.6,"interpolate":"monotone"},"encoding":{
     "x":{"field":"age","type":"quantitative","scale":{"domain":[30,80],"nice":false},"axis":{"values":[30,40,50,60,70,80],"tickCount":12,"title":"Age","labelOverlap":false}},
     "y":{"field":"health","type":"quantitative","scale":{"domain":[1.42,4.03],"nice":false,"zero":false},"axis":{"values":[1.5,2,2.5,3,3.5,4],"tickCount":12,"format":".1f","title":null,"labelOverlap":false}},
     "color":{"field":"edu","type":"nominal","scale":{"domain":["고졸 미만","고졸 이상"],"range":["#E3262B","#000000"]},"legend":{"title":"Education:","orient":"none","legendX":302,"legendY":369,"direction":"horizontal","titleOrient":"left","titlePadding":5,"labelExpr":"split(datum.label, ' ')","symbolType":"stroke","symbolStrokeWidth":2,"symbolSize":169,"labelOffset":7,"columnPadding":13}},
     "strokeDash":{"field":"mig","type":"nominal","scale":{"domain":["비이주민","이주민"],"range":[[1,0],[5,3]]},"legend":{"title":null,"orient":"none","legendX":168,"legendY":373,"direction":"horizontal","symbolType":"stroke","symbolStrokeColor":"#000000","symbolStrokeWidth":2,"symbolSize":169,"labelOffset":9,"columnPadding":10}}}},
   {"data":{"name":"titles"},"transform":[{"filter":"datum.panel=='e'"}],"mark":{"type":"text","align":"left","baseline":"middle","fontSize":7,"color":"#333333"},"encoding":{"x":{"datum":33.3,"type":"quantitative"},"y":{"datum":3.85,"type":"quantitative"},"text":{"field":"g","type":"nominal"}}},
   {"data":{"name":"titles"},"transform":[{"filter":"datum.panel=='e'"}],"mark":{"type":"text","align":"left","baseline":"middle","fontSize":11,"fontWeight":"bold","font":"Noto Sans CJK KR","color":"#000000"},"encoding":{"x":{"datum":38.1,"type":"quantitative"},"y":{"datum":3.85,"type":"quantitative"},"text":{"field":"t","type":"nominal"}}}
  ]},
  {"width":135,"height":148,"layer":[
   {"data":{"name":"segs"},"transform":[{"filter":"datum.panel=='f'"}],"mark":{"type":"line","strokeWidth":1},"encoding":{"x":{"field":"sx","type":"quantitative","title":null},"y":{"field":"sy","type":"quantitative","title":null},"detail":{"field":"seg"},"color":{"condition":{"test":"datum.type=='red'","value":"#F4A3A3"},"value":"#999999"}}},
   {"data":{"name":"cross"},"transform":[{"filter":"datum.panel=='f'"}],"mark":{"type":"text","align":"left","baseline":"bottom","dx":2,"dy":-1,"fontSize":7},"encoding":{"x":{"datum":30,"type":"quantitative"},"y":{"field":"yval","type":"quantitative","title":null},"text":{"field":"yval","type":"quantitative","format":".2f"},"color":{"condition":{"test":"datum.type=='red'","value":"#EE6A6A"},"value":"#333333"}}},
   {"data":{"name":"cross"},"transform":[{"filter":"datum.panel=='f'"}],"mark":{"type":"text","align":"center","baseline":"middle","fontSize":7},"encoding":{"x":{"field":"xval","type":"quantitative","title":null},"y":{"datum":1.5,"type":"quantitative"},"text":{"field":"xval","type":"quantitative","format":".1f"},"color":{"condition":{"test":"datum.type=='red'","value":"#EE6A6A"},"value":"#333333"}}},
   {"data":{"name":"curves"},"transform":[{"filter":"datum.panel=='f'"}],"mark":{"type":"line","strokeWidth":1.6,"interpolate":"monotone"},"encoding":{
     "x":{"field":"age","type":"quantitative","scale":{"domain":[30,80],"nice":false},"axis":{"values":[30,40,50,60,70,80],"tickCount":12,"title":null,"labelOverlap":false}},
     "y":{"field":"health","type":"quantitative","scale":{"domain":[1.42,4.03],"nice":false,"zero":false},"axis":{"values":[1.5,2,2.5,3,3.5,4],"tickCount":12,"format":".1f","title":null,"labelOverlap":false}},
     "color":{"field":"edu","type":"nominal","scale":{"domain":["고졸 미만","고졸 이상"],"range":["#E3262B","#000000"]},"legend":{"title":"Education:","orient":"none","legendX":302,"legendY":369,"direction":"horizontal","titleOrient":"left","titlePadding":5,"labelExpr":"split(datum.label, ' ')","symbolType":"stroke","symbolStrokeWidth":2,"symbolSize":169,"labelOffset":7,"columnPadding":13}},
     "strokeDash":{"field":"mig","type":"nominal","scale":{"domain":["비이주민","이주민"],"range":[[1,0],[5,3]]},"legend":{"title":null,"orient":"none","legendX":168,"legendY":373,"direction":"horizontal","symbolType":"stroke","symbolStrokeColor":"#000000","symbolStrokeWidth":2,"symbolSize":169,"labelOffset":9,"columnPadding":10}}}},
   {"data":{"name":"titles"},"transform":[{"filter":"datum.panel=='f'"}],"mark":{"type":"text","align":"left","baseline":"middle","fontSize":7,"color":"#333333"},"encoding":{"x":{"datum":32.2,"type":"quantitative"},"y":{"datum":3.85,"type":"quantitative"},"text":{"field":"g","type":"nominal"}}},
   {"data":{"name":"titles"},"transform":[{"filter":"datum.panel=='f'"}],"mark":{"type":"text","align":"left","baseline":"middle","fontSize":11,"fontWeight":"bold","font":"Noto Sans CJK KR","color":"#000000"},"encoding":{"x":{"datum":37.0,"type":"quantitative"},"y":{"datum":3.85,"type":"quantitative"},"text":{"field":"t","type":"nominal"}}}
  ]}
 ]}
 ]
}
]
}
